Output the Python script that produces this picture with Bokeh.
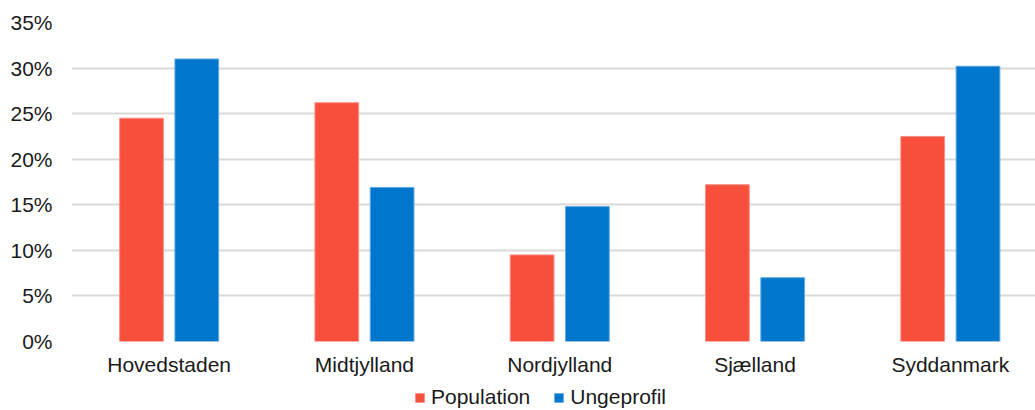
from bokeh.plotting import figure
from bokeh.layouts import column
from bokeh.models import (Range1d, FixedTicker, PrintfTickFormatter, Legend,
                          LegendItem, ColumnDataSource)
from bokeh.embed import file_html
from bokeh.resources import INLINE

regions = ["Hovedstaden", "Midtjylland", "Nordjylland", "Sjælland", "Syddanmark"]
population = [24.5, 26.2, 9.5, 17.2, 22.5]
ungeprofil = [31.0, 16.9, 14.8, 7.0, 30.2]
y_ticks = [0, 5, 10, 15, 20, 25, 30, 35]
series_names = ["Population", "Ungeprofil"]

FONT = "Liberation Sans"
TEXT = "#1a1a1a"
RED = "#F84F3C"
BLUE = "#0077CC"
RED_EDGE = "#FB8E83"
BLUE_EDGE = "#62A9E3"

centers = [i + 0.5 for i in range(len(regions))]
offset = 0.1416
bar_w = 0.224

src = ColumnDataSource(dict(
    x_pop=[c - offset for c in centers],
    x_ung=[c + offset for c in centers],
    population=population,
    ungeprofil=ungeprofil,
))

p = figure(width=1035, height=380, output_backend="svg", toolbar_location=None,
           x_range=Range1d(0, 4.936), y_range=Range1d(0, 35),
           min_border_left=71, min_border_right=0, min_border_top=22,
           min_border_bottom=39)
p.outline_line_color = None

p.vbar(x="x_pop", top="population", width=bar_w, source=src,
       fill_color=RED, line_color=RED_EDGE, line_width=1)
p.vbar(x="x_ung", top="ungeprofil", width=bar_w, source=src,
       fill_color=BLUE, line_color=BLUE_EDGE, line_width=1)

# y axis
p.yaxis.ticker = FixedTicker(ticks=y_ticks)
p.yaxis.formatter = PrintfTickFormatter(format="%d%%")
p.yaxis.axis_line_color = None
p.yaxis.major_tick_line_color = None
p.yaxis.minor_tick_line_color = None
p.yaxis.major_tick_out = 0
p.yaxis.major_tick_in = 0
p.yaxis.minor_tick_out = 0
p.yaxis.major_label_standoff = 19
p.yaxis.major_label_text_font = FONT
p.yaxis.major_label_text_font_size = "21px"
p.yaxis.major_label_text_color = TEXT

# x axis
p.xaxis.ticker = FixedTicker(ticks=centers)
p.xaxis.major_label_overrides = {c: r for c, r in zip(centers, regions)}
p.xaxis.axis_line_color = None
p.xaxis.major_tick_line_color = None
p.xaxis.minor_tick_line_color = None
p.xaxis.major_tick_out = 0
p.xaxis.major_tick_in = 0
p.xaxis.minor_tick_out = 0
p.xaxis.major_label_standoff = 11
p.xaxis.major_label_text_font = FONT
p.xaxis.major_label_text_font_size = "21px"
p.xaxis.major_label_text_color = TEXT

p.xgrid.grid_line_color = None
p.ygrid.ticker = FixedTicker(ticks=y_ticks)
p.ygrid.grid_line_color = "#D9D9D9"
p.ygrid.grid_line_width = 2

# legend strip below the chart (its bars fall far outside its visible range,
# they only provide the legend keys)
lg = figure(width=1035, height=30, output_backend="svg", toolbar_location=None,
            x_range=Range1d(100, 105), y_range=Range1d(100, 101),
            x_axis_type=None, y_axis_type=None,
            min_border_left=0, min_border_right=0, min_border_top=0,
            min_border_bottom=0)
lg.outline_line_color = None
lg.xgrid.visible = False
lg.ygrid.visible = False
k1 = lg.vbar(x="x_pop", top="population", width=bar_w, source=src,
             fill_color=RED, line_color=RED_EDGE, line_width=1)
k2 = lg.vbar(x="x_ung", top="ungeprofil", width=bar_w, source=src,
             fill_color=BLUE, line_color=BLUE_EDGE, line_width=1)

legend = Legend(items=[LegendItem(label=series_names[0], renderers=[k1]),
                       LegendItem(label=series_names[1], renderers=[k2])],
                orientation="horizontal", location=(343, 1),
                label_text_font=FONT, label_text_font_size="21px",
                label_text_color=TEXT, glyph_width=11, glyph_height=11,
                label_standoff=6, spacing=23, padding=0, margin=0,
                border_line_color=None, background_fill_alpha=0)
lg.add_layout(legend)

layout = column(p, lg, spacing=0)
open("out.html", "w").write(file_html(layout, INLINE))
